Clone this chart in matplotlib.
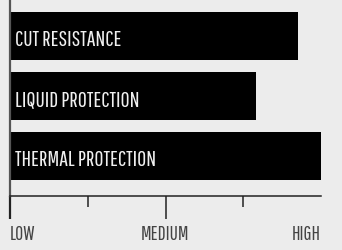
import matplotlib
matplotlib.use("Agg")
import matplotlib.pyplot as plt

categories = ["CUT RESISTANCE", "LIQUID PROTECTION", "THERMAL PROTECTION"]
values = [3.7, 3.16, 4.0]
tick_positions = [0, 2, 4]
tick_labels = ["LOW", "MEDIUM", "HIGH"]
minor_ticks = [1, 3]

FONT = ["Pathway Gothic One", "DejaVu Sans"]
BG = "#ececec"

fig = plt.figure(figsize=(3.42, 2.51), dpi=100, facecolor=BG)
ax = fig.add_axes([10 / 342, 1 - 197 / 251, 311 / 342, 197 / 251], facecolor=BG)

ypos = list(range(len(categories)))[::-1]
ax.barh(ypos, values, height=0.8, color="black", left=0)
for y, c in zip(ypos, categories):
    ax.text(0.065, y - 0.15, c, color="#f0f0f0", fontsize=15.8, family=FONT,
            va="baseline", ha="left")

ax.set_xlim(0, 4)
ax.set_ylim(-0.667, 2.617)

for s in ["top", "right"]:
    ax.spines[s].set_visible(False)
ax.spines["left"].set_color("#555555")
ax.spines["left"].set_linewidth(1.6)
ax.spines["bottom"].set_color("#222222")
ax.spines["bottom"].set_linewidth(1.1)
ax.set_yticks([])

ax.set_xticks(tick_positions)
ax.set_xticklabels(tick_labels, family=FONT, fontsize=14, color="#444444")
ax.set_xticks(minor_ticks, minor=True)
ax.tick_params(axis="x", which="major", length=16.5, width=1.1, color="#222222", pad=4)
ax.tick_params(axis="x", which="minor", length=8, width=1.1, color="#222222")
labs = ax.get_xticklabels()
labs[0].set_ha("left")
labs[1].set_ha("center")
labs[2].set_ha("right")
ax.xaxis.get_major_ticks()[2].tick1line.set_visible(False)
ax.xaxis.get_major_ticks()[0].tick1line.set_color("#555555")
ax.xaxis.get_major_ticks()[0].tick1line.set_markeredgewidth(1.6)

fig.savefig("out.png", dpi=100, facecolor=BG)
